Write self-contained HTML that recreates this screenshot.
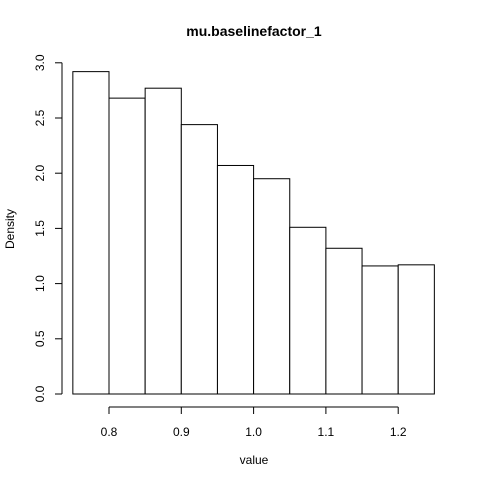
<!DOCTYPE html>
<html><head><meta charset="utf-8"><style>body{margin:0;background:#fff}svg{display:block;font-family:"Liberation Sans",Arial,sans-serif}</style></head>
<body>
<svg id="chart" width="480" height="480" viewBox="0 0 480 480">
<text x="254" y="36" text-anchor="middle" font-size="14" font-weight="bold">mu.baselinefactor_1</text>
<text x="254" y="464" text-anchor="middle" font-size="12">value</text>
<text transform="translate(14,229) rotate(-90)" text-anchor="middle" font-size="12">Density</text>
<g id="bars"></g><g id="xaxis"></g><g id="yaxis"></g>
</svg>
<script>
const breaks=[0.75,0.8,0.85,0.9,0.95,1.0,1.05,1.1,1.15,1.2,1.25];
const densities=[2.92,2.68,2.77,2.44,2.07,1.95,1.51,1.32,1.16,1.17];
const xTicks=[0.8,0.9,1.0,1.1,1.2];
const xTickLabels=["0.8","0.9","1.0","1.1","1.2"];
const yTicks=[0,0.5,1,1.5,2,2.5,3];
const yTickLabels=["0.0","0.5","1.0","1.5","2.0","2.5","3.0"];
const NS="http://www.w3.org/2000/svg";
const xs=v=>109+(v-0.8)*723;
const ys=v=>394-v*110.4;
function mk(t,a,p){const e=document.createElementNS(NS,t);for(const k in a)e.setAttribute(k,a[k]);p.appendChild(e);return e;}
const bars=document.getElementById('bars');
densities.forEach((d,i)=>{
 const r=mk('rect',{x:xs(breaks[i]),y:ys(d),width:xs(breaks[i+1])-xs(breaks[i]),height:ys(0)-ys(d),fill:'#fff',stroke:'#000','stroke-width':1},bars);
 
 
});
const xa=document.getElementById('xaxis');


mk('line',{x1:xs(xTicks[0]),x2:xs(xTicks[xTicks.length-1]),y1:407,y2:407,stroke:'#000'},xa);
xTicks.forEach((v,i)=>{
 mk('line',{x1:xs(v),x2:xs(v),y1:407,y2:414,stroke:'#000'},xa);
 const t=mk('text',{x:xs(v),y:436,'text-anchor':'middle','font-size':12},xa);
 t.textContent=xTickLabels[i];
 
 
});
const ya=document.getElementById('yaxis');


mk('line',{x1:62,x2:62,y1:ys(yTicks[0]),y2:ys(yTicks[yTicks.length-1]),stroke:'#000'},ya);
yTicks.forEach((v,i)=>{
 mk('line',{x1:55,x2:62,y1:ys(v),y2:ys(v),stroke:'#000'},ya);
 const t=mk('text',{transform:`translate(44,${ys(v)}) rotate(-90)`,'text-anchor':'middle','font-size':12},ya);
 t.textContent=yTickLabels[i];
 
 
});
</script>
</body></html>
